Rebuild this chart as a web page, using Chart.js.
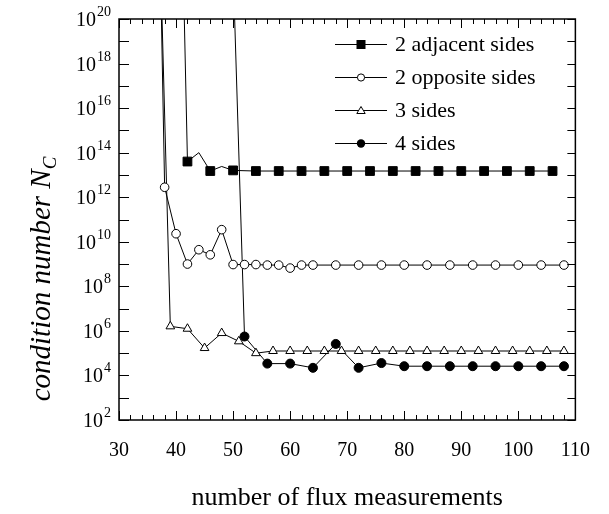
<!DOCTYPE html>
<html><head><meta charset="utf-8">
<script src="https://cdn.jsdelivr.net/npm/chart.js@4.4.0/dist/chart.umd.min.js"></script>
<style>html,body{margin:0;padding:0;background:#fff}canvas{display:block}</style>
</head><body>
<canvas id="c" width="609" height="514"></canvas>
<script>
// ---- data ----
const seriesNames = ['2 adjacent sides', '2 opposite sides', '3 sides', '4 sides'];

const xAdjacent = [38, 42, 44, 46, 48, 50, 54, 58, 62, 66, 70, 74, 78, 82, 86, 90, 94, 98, 102, 106];
const yAdjacent = [1e60, 4.0e13, 1.0e14, 1.5e13, 2.4e13, 1.6e13, 1.5e13, 1.5e13, 1.5e13, 1.5e13, 1.5e13, 1.5e13, 1.5e13, 1.5e13, 1.5e13, 1.5e13, 1.5e13, 1.5e13, 1.5e13, 1.5e13];

const xOpposite = [36, 38, 40, 42, 44, 46, 48, 50, 52, 54, 56, 58, 60, 62, 64, 68, 72, 76, 80, 84, 88, 92, 96, 100, 104, 108];
const yOpposite = [2e39, 2.8e12, 2.3e10, 1.0e9, 4.4e9, 2.6e9, 3.5e10, 9.5e8, 9.5e8, 9.5e8, 9.0e8, 9.0e8, 6.6e8, 9.0e8, 9.0e8, 9.0e8, 9.0e8, 9.0e8, 9.0e8, 9.0e8, 9.0e8, 9.0e8, 9.0e8, 9.0e8, 9.0e8, 9.0e8];

const xThree = [36, 39, 42, 45, 48, 51, 54, 57, 60, 63, 66, 69, 72, 75, 78, 81, 84, 87, 90, 93, 96, 99, 102, 105, 108];
const yThree = [5e34, 1.6e6, 1.25e6, 1.7e5, 8.0e5, 3.4e5, 1.0e5, 1.25e5, 1.25e5, 1.25e5, 1.25e5, 1.25e5, 1.25e5, 1.25e5, 1.25e5, 1.25e5, 1.25e5, 1.25e5, 1.25e5, 1.25e5, 1.25e5, 1.25e5, 1.25e5, 1.25e5, 1.25e5];

const xFour = [48, 52, 56, 60, 64, 68, 72, 76, 80, 84, 88, 92, 96, 100, 104, 108];
const yFour = [6e38, 5.6e5, 3.4e4, 3.4e4, 2.2e4, 2.6e5, 2.2e4, 3.6e4, 2.6e4, 2.6e4, 2.6e4, 2.6e4, 2.6e4, 2.6e4, 2.6e4, 2.6e4];

const xTickValues = [30, 40, 50, 60, 70, 80, 90, 100, 110];
const yTickExponents = [2, 4, 6, 8, 10, 12, 14, 16, 18, 20];
const xTitle = 'number of flux measurements';
const yTitleMain = 'condition number ';
const yTitleSymbol = 'N';
const yTitleSub = 'C';

// ---- helpers ----
const pts = (xs, ys) => xs.map((x, i) => ({x, y: ys[i]}));
const YMAX = 1e20;
const SERIF = "'Liberation Serif', 'Times New Roman', serif";

const onChart = r => ctx => (ctx.raw && ctx.raw.y <= YMAX) ? r : 0;

const datasets = [
  { label: seriesNames[0], data: pts(xAdjacent, yAdjacent), pointStyle: 'rect',
    backgroundColor: '#000', borderColor: '#000',
    pointRadius: ctx => (ctx.raw && ctx.raw.x >= 42 && (ctx.raw.x - 42) % 4 === 0) ? 6.2 : 0 },
  { label: seriesNames[1], data: pts(xOpposite, yOpposite), pointStyle: 'circle',
    backgroundColor: '#fff', borderColor: '#000', pointRadius: onChart(4.3) },
  { label: seriesNames[2], data: pts(xThree, yThree), pointStyle: 'triangle',
    backgroundColor: '#fff', borderColor: '#000', pointRadius: onChart(5) },
  { label: seriesNames[3], data: pts(xFour, yFour), pointStyle: 'circle',
    backgroundColor: '#000', borderColor: '#000', pointRadius: onChart(4.5) }
].map(d => Object.assign({ borderWidth: 1, pointBorderWidth: 1, tension: 0, fill: false }, d));

const frame = {
  id: 'frame',
  beforeDraw(chart) {
    const c = chart.ctx; c.save(); c.fillStyle = '#fff'; c.fillRect(0, 0, chart.width, chart.height); c.restore();
  },
  afterDraw(chart) {
    const c = chart.ctx, a = chart.chartArea, xs = chart.scales.x, ys = chart.scales.y;
    c.save();
    c.strokeStyle = '#000';
    // inward tick marks
    c.lineWidth = 1;
    c.beginPath();
    for (let v = 30; v <= 110; v += 2) {
      const px = Math.round(xs.getPixelForValue(v)) + 0.5;
      const len = v % 10 === 0 ? 9 : 5;
      c.moveTo(px, a.bottom); c.lineTo(px, a.bottom - len);
      c.moveTo(px, a.top); c.lineTo(px, a.top + len);
    }
    for (let e = 2; e <= 20; e++) {
      const py = Math.round(ys.getPixelForValue(Math.pow(10, e))) + 0.5;
      c.moveTo(a.left, py); c.lineTo(a.left + 10, py);
      c.moveTo(a.right, py); c.lineTo(a.right - 8, py);
    }
    c.stroke();
    // frame box
    c.lineWidth = 1.5;
    c.strokeRect(a.left, a.top, a.right - a.left, a.bottom - a.top);

    // y tick labels: 10 with superscript exponent, placed by the log scale
    c.fillStyle = '#000';
    c.textAlign = 'left';
    c.textBaseline = 'alphabetic';
    yTickExponents.forEach(e => {
      const py = ys.getPixelForValue(Math.pow(10, e));
      const exp = String(e);
      c.font = '14px ' + SERIF;
      const wSup = c.measureText(exp).width;
      c.font = '20px ' + SERIF;
      const wBase = c.measureText('10').width;
      const right = 111;
      const sx = right - wSup;
      const bx = sx - 1 - wBase;
      c.fillText('10', bx, py + 7);
      c.font = '14px ' + SERIF;
      c.fillText(exp, sx, py - 3);
    });

    // legend
    const rows = [44, 77, 110, 143];
    c.font = '22px ' + SERIF;
    c.textBaseline = 'middle';
    c.textAlign = 'left';
    c.fillStyle = '#000';
    rows.forEach((y, i) => {
      c.lineWidth = 1;
      c.beginPath(); c.moveTo(335, y + 0.5); c.lineTo(387, y + 0.5); c.stroke();
      const mx = 361;
      c.beginPath();
      if (i === 0) { c.fillStyle = '#000'; c.fillRect(mx - 4.5, y - 4, 9, 9); }
      else if (i === 1) { c.arc(mx, y + 0.5, 3.6, 0, Math.PI * 2); c.fillStyle = '#fff'; c.fill(); c.stroke(); }
      else if (i === 2) { c.moveTo(mx, y - 3.5); c.lineTo(mx + 4.2, y + 3.5); c.lineTo(mx - 4.2, y + 3.5); c.closePath(); c.fillStyle = '#fff'; c.fill(); c.stroke(); }
      else { c.arc(mx, y + 0.5, 4.2, 0, Math.PI * 2); c.fillStyle = '#000'; c.fill(); }
      c.fillStyle = '#000';
      c.fillText(seriesNames[i], 395, y + 1);
    });

    // y axis title (rotated, with subscript)
    c.translate(41, 279);
    c.rotate(-Math.PI / 2);
    const mainFont = 'italic 29px ' + SERIF, subFont = 'italic 19px ' + SERIF;
    c.font = mainFont;
    const w1 = c.measureText(yTitleMain).width, w2 = c.measureText(yTitleSymbol).width;
    c.font = subFont;
    const w3 = c.measureText(yTitleSub).width;
    let x0 = -(w1 + w2 + w3) / 2;
    c.textBaseline = 'alphabetic';
    c.font = mainFont;
    c.fillText(yTitleMain, x0, 9);
    c.fillText(yTitleSymbol, x0 + w1, 9);
    c.font = subFont;
    c.fillText(yTitleSub, x0 + w1 + w2, 15);
    c.restore();
  }
};

new Chart(document.getElementById('c'), {
  type: 'line',
  data: { datasets },
  plugins: [frame],
  options: {
    responsive: false,
    animation: false,
    devicePixelRatio: 1,
    layout: { padding: { top: 19, right: 33, left: 0, bottom: 0 } },
    plugins: { legend: { display: false }, tooltip: { enabled: false } },
    scales: {
      x: {
        type: 'linear', min: 30, max: 110,
        grid: { display: false, drawTicks: false },
        border: { display: false },
        afterBuildTicks: s => { s.ticks = xTickValues.map(v => ({ value: v })); },
        afterFit: s => { s.height = 94; },
        ticks: { color: '#000', padding: 19, maxRotation: 0, autoSkip: false,
          font: { family: SERIF, size: 20 } },
        title: { display: true, text: xTitle, color: '#000', padding: { top: 0, bottom: 0 },
          font: { family: SERIF, size: 26 } }
      },
      y: {
        type: 'logarithmic', min: 1e2, max: 1e20,
        grid: { display: false, drawTicks: false },
        border: { display: false },
        afterBuildTicks: s => { s.ticks = yTickExponents.map(e => ({ value: Math.pow(10, e) })); },
        afterFit: s => { s.width = 119; },
        ticks: { display: false }
      }
    }
  }
});
</script>
</body></html>
